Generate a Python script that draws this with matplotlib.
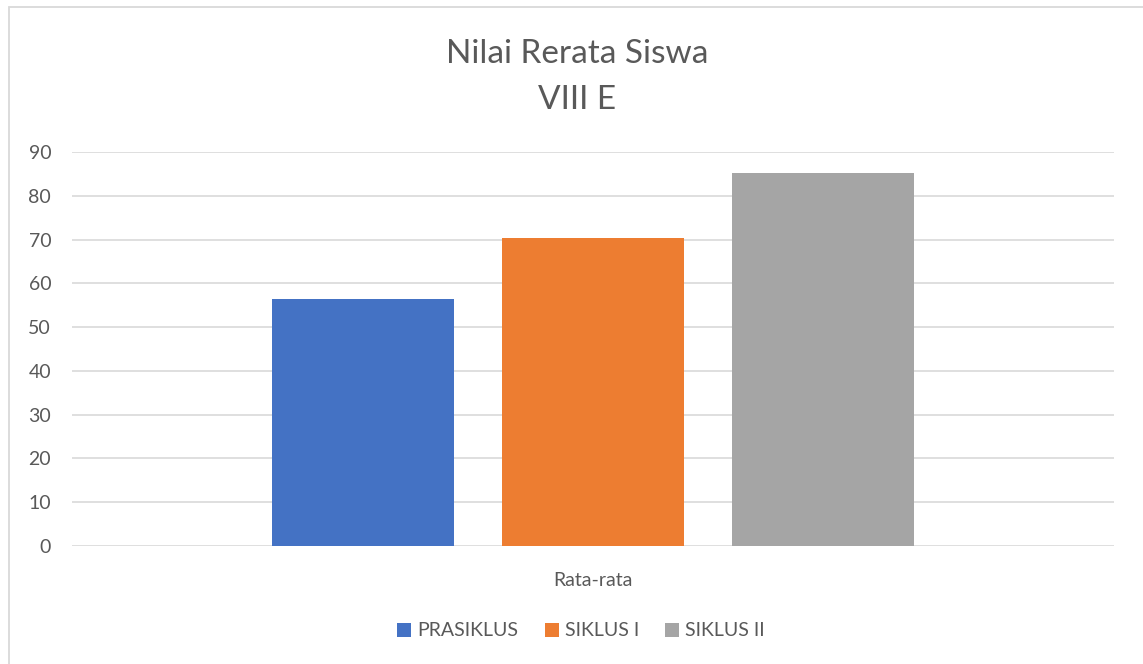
import matplotlib
matplotlib.use("Agg")
import matplotlib.pyplot as plt
from matplotlib.patches import Rectangle, Patch

# Data
category = "Rata-rata"
series = ["PRASIKLUS", "SIKLUS I", "SIKLUS II"]
values = [56.4, 70.4, 85.2]
colors = ["#4472C4", "#ED7D31", "#A5A5A5"]
yticks = [0, 10, 20, 30, 40, 50, 60, 70, 80, 90]
title = "Nilai Rerata Siswa\nVIII E"

W, H = 1143, 664
fig = plt.figure(figsize=(W / 100, H / 100), dpi=100)
plt.rcParams["font.family"] = ["Lato", "DejaVu Sans"]

# chart border (left/top visible)
fig.patches.append(Rectangle((9 / W, -0.05), 1.2, (664 - 7) / H + 0.05,
                             transform=fig.transFigure, fill=False,
                             edgecolor="#D9D9D9", linewidth=1.3))

ax = fig.add_axes([72 / W, (H - 546) / H, (1114 - 72) / W, (546 - 152) / H])
bw = 182 / 1042
step = 230 / 1042
for i, (s, v, c) in enumerate(zip(series, values, colors)):
    ax.bar((i - 1) * step, v, width=bw, color=c, label=s, zorder=3)

ax.set_xlim(-0.5, 0.5)
ax.set_ylim(0, 90)
ax.set_yticks(yticks)
ax.set_yticklabels([str(t) for t in yticks], fontsize=14, color="#595959")
ax.tick_params(axis="y", length=0, pad=15)
ax.set_xticks([0])
ax.set_xticklabels([category], fontsize=14, color="#595959")
ax.tick_params(axis="x", length=0, pad=19)
ax.grid(axis="y", color="#D9D9D9", linewidth=1.2, zorder=0)
for sp in ax.spines.values():
    sp.set_visible(False)

fig.text(577 / W, 1 - 77 / H, title, ha="center", va="center",
         fontsize=24, color="#595959", linespacing=1.65)

handles = [Patch(facecolor=c, label=s) for s, c in zip(series, colors)]
fig.legend(handles=handles, loc="center", bbox_to_anchor=(581 / W, 1 - 631 / H),
           ncol=3, frameon=False, fontsize=14, labelcolor="#595959",
           handlelength=0.72, handleheight=0.72, handletextpad=0.31,
           columnspacing=1.34)

fig.savefig("out.png", dpi=100, facecolor="white")
